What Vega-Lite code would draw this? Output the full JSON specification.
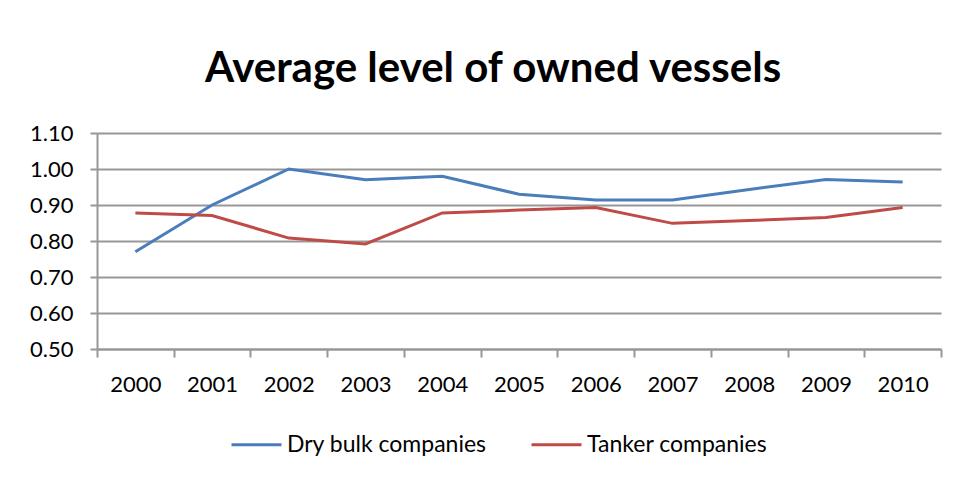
{
  "$schema": "https://vega.github.io/schema/vega-lite/v6.json",
  "autosize": "none",
  "width": 844,
  "height": 216,
  "padding": {"left": 97, "top": 133, "right": 27, "bottom": 142},
  "background": "white",
  "config": {
    "font": "Lato",
    "view": {"stroke": null}
  },
  "title": {
    "text": "Average level of owned vessels",
    "font": "Lato",
    "fontSize": 42,
    "fontWeight": "bold",
    "color": "#000000",
    "anchor": "middle",
    "frame": "group",
    "dx": -26,
    "baseline": "alphabetic",
    "offset": -2
  },
  "data": {
    "values": [
      {"year": "2000", "series": "Dry bulk companies", "value": 0.77},
      {"year": "2001", "series": "Dry bulk companies", "value": 0.90},
      {"year": "2002", "series": "Dry bulk companies", "value": 1.00},
      {"year": "2003", "series": "Dry bulk companies", "value": 0.97},
      {"year": "2004", "series": "Dry bulk companies", "value": 0.98},
      {"year": "2005", "series": "Dry bulk companies", "value": 0.93},
      {"year": "2006", "series": "Dry bulk companies", "value": 0.914},
      {"year": "2007", "series": "Dry bulk companies", "value": 0.914},
      {"year": "2008", "series": "Dry bulk companies", "value": 0.943},
      {"year": "2009", "series": "Dry bulk companies", "value": 0.971},
      {"year": "2010", "series": "Dry bulk companies", "value": 0.964},
      {"year": "2000", "series": "Tanker companies", "value": 0.878},
      {"year": "2001", "series": "Tanker companies", "value": 0.871},
      {"year": "2002", "series": "Tanker companies", "value": 0.808},
      {"year": "2003", "series": "Tanker companies", "value": 0.792},
      {"year": "2004", "series": "Tanker companies", "value": 0.878},
      {"year": "2005", "series": "Tanker companies", "value": 0.886},
      {"year": "2006", "series": "Tanker companies", "value": 0.893},
      {"year": "2007", "series": "Tanker companies", "value": 0.849},
      {"year": "2008", "series": "Tanker companies", "value": 0.857},
      {"year": "2009", "series": "Tanker companies", "value": 0.865},
      {"year": "2010", "series": "Tanker companies", "value": 0.893}
    ]
  },
  "mark": {"type": "line", "strokeWidth": 3},
  "encoding": {
    "x": {
      "field": "year",
      "type": "ordinal",
      "scale": {"type": "band", "paddingInner": 0, "paddingOuter": 0},
      "axis": {
        "title": null,
        "labelAngle": 0,
        "labelFont": "Lato",
        "labelFontSize": 22,
        "labelColor": "#000000",
        "labelPadding": 17,
        "tickBand": "extent",
        "tickSize": 8,
        "tickWidth": 2,
        "tickColor": "#979797",
        "domainColor": "#979797",
        "domainWidth": 2,
        "grid": false
      }
    },
    "y": {
      "field": "value",
      "type": "quantitative",
      "scale": {"domain": [0.5, 1.1], "nice": false, "zero": false},
      "axis": {
        "title": null,
        "values": [0.5, 0.6, 0.7, 0.8, 0.9, 1.0, 1.1],
        "format": ".2f",
        "labelFont": "Lato",
        "labelFontSize": 22,
        "labelColor": "#000000",
        "labelPadding": 17,
        "tickSize": 7,
        "tickWidth": 2,
        "tickColor": "#979797",
        "domainColor": "#979797",
        "domainWidth": 2,
        "grid": true,
        "gridColor": "#979797",
        "gridWidth": 2
      }
    },
    "color": {
      "field": "series",
      "type": "nominal",
      "scale": {
        "domain": ["Dry bulk companies", "Tanker companies"],
        "range": ["#4A7EBB", "#BE4B48"]
      },
      "legend": {
        "title": null,
        "orient": "none",
        "direction": "horizontal",
        "legendX": 133,
        "legendY": 285,
        "padding": 0,
        "symbolType": "stroke",
        "symbolSize": 2500,
        "symbolStrokeWidth": 3,
        "labelFont": "Lato",
        "labelFontSize": 23,
        "labelColor": "#000000",
        "labelLimit": 0,
        "labelOffset": 4,
        "columnPadding": 38
      }
    }
  }
}
